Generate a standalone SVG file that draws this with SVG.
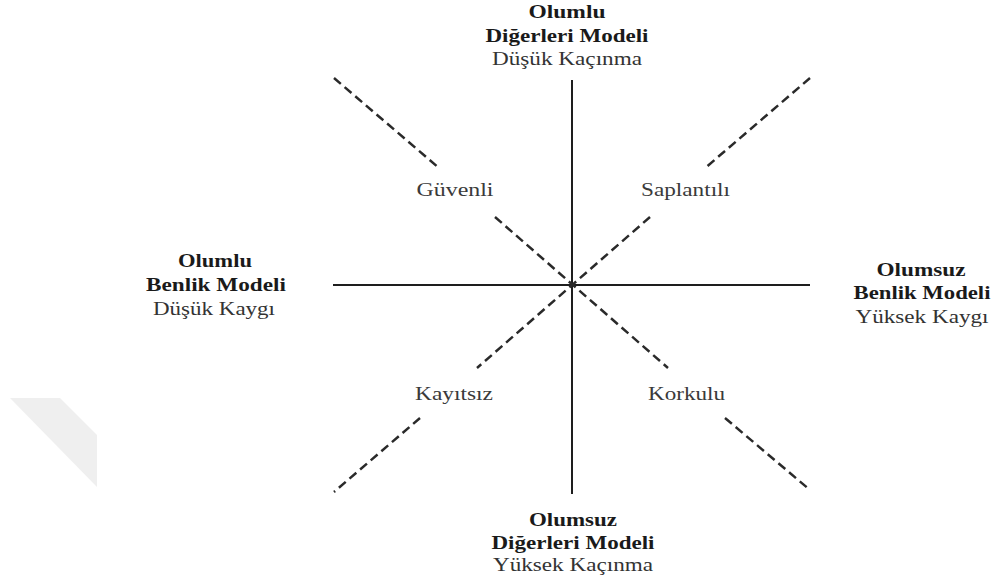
<svg xmlns="http://www.w3.org/2000/svg" width="993" height="582" viewBox="0 0 993 582">
<style>
.b{font-family:"Liberation Serif","Times New Roman",serif;font-weight:bold;font-size:18px;fill:#1a1a1a;text-anchor:middle}
.r{font-family:"Liberation Serif","Times New Roman",serif;font-size:18px;fill:#333;text-anchor:middle}
.q{font-family:"Liberation Serif","Times New Roman",serif;font-size:19px;fill:#3a3a3a;text-anchor:middle}
.ax{stroke:#1e1e1e;stroke-width:2;fill:none}
.d{stroke:#2a2a2a;stroke-width:2.5;stroke-dasharray:9 5;fill:none}
</style>
<rect width="993" height="582" fill="#fff"/>
<polygon points="10,398 60,398 97,435 97,487" fill="#efefef"/>
<g id="connectors">
<line class="ax" x1="572" y1="80" x2="572" y2="494"/>
<line class="ax" x1="333" y1="285" x2="810" y2="285"/>
<line class="d" x1="334" y1="78" x2="439" y2="168"/>
<line class="d" x1="495" y1="217" x2="668" y2="368"/>
<line class="d" x1="725" y1="418" x2="810" y2="490"/>
<line class="d" x1="810" y1="78" x2="704" y2="169"/>
<line class="d" x1="650" y1="217" x2="477" y2="368"/>
<line class="d" x1="420" y1="418" x2="334" y2="492"/>
</g>
<g id="top">
<text class="b" x="567" y="18" textLength="77" lengthAdjust="spacingAndGlyphs">Olumlu</text>
<text class="b" x="567" y="42" textLength="163" lengthAdjust="spacingAndGlyphs">Diğerleri Modeli</text>
<text class="r" x="567" y="65" textLength="150" lengthAdjust="spacingAndGlyphs">Düşük Kaçınma</text>
</g>
<g id="left">
<text class="b" x="215" y="267" textLength="74" lengthAdjust="spacingAndGlyphs">Olumlu</text>
<text class="b" x="216" y="291" textLength="140" lengthAdjust="spacingAndGlyphs">Benlik Modeli</text>
<text class="r" x="214" y="315" textLength="122" lengthAdjust="spacingAndGlyphs">Düşük Kaygı</text>
</g>
<g id="right">
<text class="b" x="921" y="276" textLength="89" lengthAdjust="spacingAndGlyphs">Olumsuz</text>
<text class="b" x="922" y="299" textLength="137" lengthAdjust="spacingAndGlyphs">Benlik Modeli</text>
<text class="r" x="922" y="323" textLength="133" lengthAdjust="spacingAndGlyphs">Yüksek Kaygı</text>
</g>
<g id="bottom">
<text class="b" x="573" y="526" textLength="88" lengthAdjust="spacingAndGlyphs">Olumsuz</text>
<text class="b" x="573" y="549" textLength="163" lengthAdjust="spacingAndGlyphs">Diğerleri Modeli</text>
<text class="r" x="573" y="571" textLength="160" lengthAdjust="spacingAndGlyphs">Yüksek Kaçınma</text>
</g>
<g id="guvenli"><text class="q" x="455" y="196" textLength="77" lengthAdjust="spacingAndGlyphs">Güvenli</text></g>
<g id="saplantili"><text class="q" x="685.5" y="196" textLength="89" lengthAdjust="spacingAndGlyphs">Saplantılı</text></g>
<g id="kayitsiz"><text class="q" x="454" y="400" textLength="78" lengthAdjust="spacingAndGlyphs">Kayıtsız</text></g>
<g id="korkulu"><text class="q" x="686.5" y="400" textLength="77" lengthAdjust="spacingAndGlyphs">Korkulu</text></g>
</svg>
